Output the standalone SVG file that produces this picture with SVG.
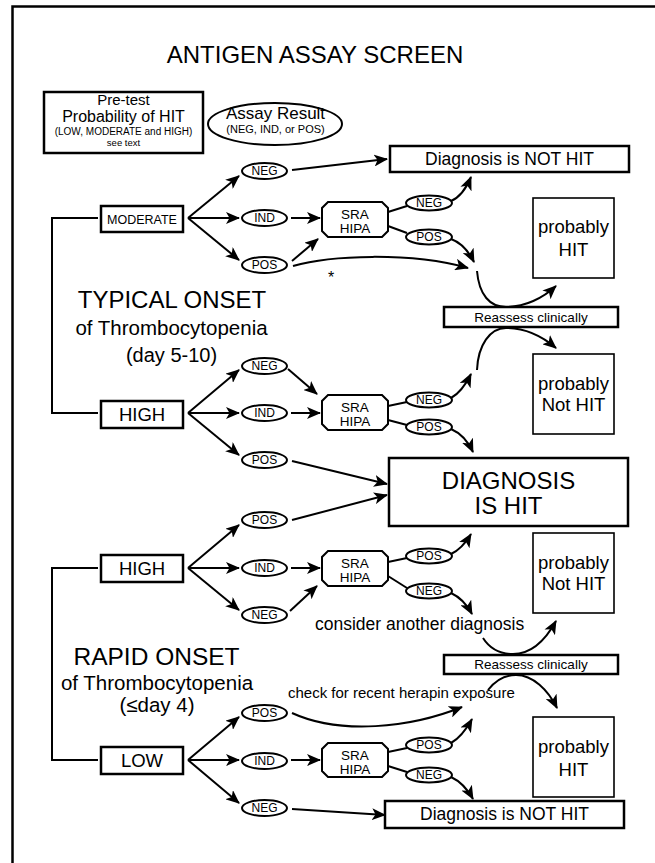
<svg xmlns="http://www.w3.org/2000/svg" width="655" height="863" viewBox="0 0 655 863">
<style>
text{font-family:"Liberation Sans",Arial,sans-serif;fill:#000}
.c{text-anchor:middle}
.box{fill:#fff;stroke:#000;stroke-width:2.5}
.pbox{fill:#fff;stroke:#000;stroke-width:1.6}
.ell{fill:#fff;stroke:#000;stroke-width:2}
.sra{fill:#fff;stroke:#000;stroke-width:2}
.lbl{font-size:12px;text-anchor:middle}
.conn path{fill:none;stroke:#000;stroke-width:2}
.conn path.a{marker-end:url(#ah)}
.frame{fill:none;stroke:#000;stroke-width:2.5}
</style>
<defs>
<marker id="ah" markerUnits="userSpaceOnUse" markerWidth="14" markerHeight="12" refX="13" refY="6" orient="auto">
<path d="M0,0 L14,6 L0,12 L3.5,6 z" fill="#000"/>
</marker>
</defs>
<rect width="655" height="863" fill="#fff"/>
<path class="frame" d="M12.5 863 L12.5 6.5 L655 6.5"/>

<text id="title" x="315" y="63" class="c" font-size="24">ANTIGEN ASSAY SCREEN</text>

<g id="legend-pretest">
<rect class="box" x="44" y="92" width="159" height="61"/>
<text x="123.5" y="104.5" class="c" font-size="15">Pre-test</text>
<text x="123.5" y="121.5" class="c" font-size="16">Probability of HIT</text>
<text x="123.5" y="135" class="c" font-size="10">(LOW, MODERATE and HIGH)</text>
<text x="123.5" y="146" class="c" font-size="9.5">see text</text>
</g>
<g id="legend-assay">
<ellipse class="ell" cx="275" cy="124" rx="67" ry="21"/>
<text x="275.5" y="119" class="c" font-size="17">Assay Result</text>
<text x="275.5" y="133" class="c" font-size="11">(NEG, IND, or POS)</text>
</g>

<g class="conn" id="connectors">
<path d="M98 218 L52 218 L52 413 L98 413"/>
<path d="M98 568 L52 568 L52 760 L98 760"/>
<!-- typical moderate -->
<path class="a" d="M188 218 L239 176"/>
<path class="a" d="M188 218 L239 218"/>
<path class="a" d="M188 218 L239 260"/>
<path class="a" d="M292 170 L387 159"/>
<path class="a" d="M291 218 L320 218"/>
<path class="a" d="M292 261 L318 239"/>
<path class="a" d="M293 266 C330 255 410 252 468 268"/>
<path d="M388 212 L407 206"/>
<path class="a" d="M451 201 Q463 196 471 177"/>
<path d="M388 226 L407 233"/>
<path class="a" d="M451 239 Q465 244 474 262"/>
<path class="a" d="M477 271 C479 295 490 307 506 307 C525 307 543 298 556 286"/>
<path class="a" d="M477 370 C478 345 490 328 506 328 C525 328 543 337 556 348"/>
<!-- typical high -->
<path class="a" d="M188 413 L239 370"/>
<path class="a" d="M188 413 L239 413"/>
<path class="a" d="M188 413 L239 455"/>
<path class="a" d="M288 369 L317 394"/>
<path class="a" d="M291 413 L320 413"/>
<path d="M388 406 L407 402"/>
<path class="a" d="M451 398 Q462 392 471 374"/>
<path d="M388 420 L407 425"/>
<path class="a" d="M451 429 Q465 435 473 452"/>
<path class="a" d="M292 461 L387 484"/>
<!-- rapid high -->
<path class="a" d="M292 520 L387 495"/>
<path class="a" d="M188 568 L239 525"/>
<path class="a" d="M188 568 L239 568"/>
<path class="a" d="M188 568 L239 610"/>
<path class="a" d="M291 568 L320 568"/>
<path class="a" d="M290 611 L317 586"/>
<path d="M388 562 L407 558"/>
<path class="a" d="M451 554 Q462 549 471 534"/>
<path d="M388 576 L407 588"/>
<path class="a" d="M451 593 Q464 599 472 614"/>
<path class="a" d="M483 638 C490 649 500 654 513 654 C530 654 545 641 556 621"/>
<path class="a" d="M488 690 C495 681 505 675 516 675 C533 675 548 690 557 708"/>
<!-- rapid low -->
<path class="a" d="M292 713 C340 735 410 728 462 707"/>
<path class="a" d="M188 760 L239 717"/>
<path class="a" d="M188 760 L239 760"/>
<path class="a" d="M188 760 L239 803"/>
<path class="a" d="M291 760 L320 760"/>
<path d="M388 752 L407 748"/>
<path class="a" d="M451 743 Q462 737 472 719"/>
<path d="M388 766 L407 772"/>
<path class="a" d="M451 777 Q464 783 473 799"/>
<path class="a" d="M292 809 L385 815"/>
</g>

<!-- labels -->
<text x="172" y="308" class="c" font-size="24">TYPICAL ONSET</text>
<text x="171.5" y="335" class="c" font-size="20.5">of Thrombocytopenia</text>
<text x="171.5" y="362" class="c" font-size="20">(day 5-10)</text>
<text x="156.5" y="665" class="c" font-size="24.5">RAPID ONSET</text>
<text x="157" y="690" class="c" font-size="20.5">of Thrombocytopenia</text>
<text x="157" y="712" class="c" font-size="20.5">(≤day 4)</text>
<text x="315" y="630" font-size="17.5">consider another diagnosis</text>
<text x="288" y="698" font-size="15">check for recent herapin exposure</text>
<text x="331" y="283" class="c" font-size="16">*</text>

<!-- probability boxes -->
<g id="moderate"><rect class="box" x="101" y="206" width="82" height="26"/><text x="142" y="223.5" class="c" font-size="12.5">MODERATE</text></g>
<g id="high-typical"><rect class="box" x="101" y="401" width="82" height="27"/><text x="142" y="421" class="c" font-size="18.5">HIGH</text></g>
<g id="high-rapid"><rect class="box" x="101" y="555" width="82" height="27"/><text x="142" y="575" class="c" font-size="18.5">HIGH</text></g>
<g id="low"><rect class="box" x="101" y="747" width="82" height="27"/><text x="142" y="767" class="c" font-size="18.5">LOW</text></g>

<!-- left assay ellipses -->
<g id="m-neg"><ellipse class="ell" cx="264.5" cy="171" rx="22.5" ry="8"/><text class="lbl" x="264.5" y="175.3">NEG</text></g>
<g id="m-ind"><ellipse class="ell" cx="264.5" cy="218" rx="22.5" ry="8"/><text class="lbl" x="264.5" y="222.3">IND</text></g>
<g id="m-pos"><ellipse class="ell" cx="264.5" cy="265" rx="22.5" ry="8"/><text class="lbl" x="264.5" y="269.3">POS</text></g>
<g id="th-neg"><ellipse class="ell" cx="264.5" cy="366" rx="22.5" ry="8"/><text class="lbl" x="264.5" y="370.3">NEG</text></g>
<g id="th-ind"><ellipse class="ell" cx="264.5" cy="413" rx="22.5" ry="8"/><text class="lbl" x="264.5" y="417.3">IND</text></g>
<g id="th-pos"><ellipse class="ell" cx="264.5" cy="460" rx="22.5" ry="8"/><text class="lbl" x="264.5" y="464.3">POS</text></g>
<g id="rh-pos"><ellipse class="ell" cx="264.5" cy="520" rx="22.5" ry="8"/><text class="lbl" x="264.5" y="524.3">POS</text></g>
<g id="rh-ind"><ellipse class="ell" cx="264.5" cy="568" rx="22.5" ry="8"/><text class="lbl" x="264.5" y="572.3">IND</text></g>
<g id="rh-neg"><ellipse class="ell" cx="264.5" cy="615" rx="22.5" ry="8"/><text class="lbl" x="264.5" y="619.3">NEG</text></g>
<g id="rl-pos"><ellipse class="ell" cx="264.5" cy="713" rx="22.5" ry="8"/><text class="lbl" x="264.5" y="717.3">POS</text></g>
<g id="rl-ind"><ellipse class="ell" cx="264.5" cy="761" rx="22.5" ry="8"/><text class="lbl" x="264.5" y="765.3">IND</text></g>
<g id="rl-neg"><ellipse class="ell" cx="264.5" cy="808" rx="22.5" ry="8"/><text class="lbl" x="264.5" y="812.3">NEG</text></g>

<!-- SRA HIPA -->
<g id="sra1"><path class="sra" d="M328 202 L382 202 L388 208 L388 231 L382 237 L328 237 L322 231 L322 208 Z"/><text x="355" y="219" class="c" font-size="13.5">SRA</text><text x="355" y="233" class="c" font-size="13.5">HIPA</text></g>
<g id="sra2"><path class="sra" d="M328 395 L382 395 L388 401 L388 424 L382 430 L328 430 L322 424 L322 401 Z"/><text x="355" y="412" class="c" font-size="13.5">SRA</text><text x="355" y="426" class="c" font-size="13.5">HIPA</text></g>
<g id="sra3"><path class="sra" d="M328 551 L382 551 L388 557 L388 580 L382 586 L328 586 L322 580 L322 557 Z"/><text x="355" y="568" class="c" font-size="13.5">SRA</text><text x="355" y="582" class="c" font-size="13.5">HIPA</text></g>
<g id="sra4"><path class="sra" d="M328 743 L382 743 L388 749 L388 771 L382 777 L328 777 L322 771 L322 749 Z"/><text x="355" y="759.5" class="c" font-size="13.5">SRA</text><text x="355" y="773.5" class="c" font-size="13.5">HIPA</text></g>

<!-- right small ellipses -->
<g id="s1-neg"><ellipse class="ell" cx="429" cy="203" rx="23" ry="7.5"/><text class="lbl" x="429" y="207.3">NEG</text></g>
<g id="s1-pos"><ellipse class="ell" cx="429" cy="237" rx="23" ry="7.5"/><text class="lbl" x="429" y="241.3">POS</text></g>
<g id="s2-neg"><ellipse class="ell" cx="429" cy="400" rx="23" ry="7.5"/><text class="lbl" x="429" y="404.3">NEG</text></g>
<g id="s2-pos"><ellipse class="ell" cx="429" cy="427" rx="23" ry="7.5"/><text class="lbl" x="429" y="431.3">POS</text></g>
<g id="s3-pos"><ellipse class="ell" cx="429" cy="556" rx="23" ry="7.5"/><text class="lbl" x="429" y="560.3">POS</text></g>
<g id="s3-neg"><ellipse class="ell" cx="429" cy="591" rx="23" ry="7.5"/><text class="lbl" x="429" y="595.3">NEG</text></g>
<g id="s4-pos"><ellipse class="ell" cx="429" cy="745" rx="23" ry="7.5"/><text class="lbl" x="429" y="749.3">POS</text></g>
<g id="s4-neg"><ellipse class="ell" cx="429" cy="775" rx="23" ry="7.5"/><text class="lbl" x="429" y="779.3">NEG</text></g>

<!-- outcomes -->
<g id="not-hit-top"><rect class="box" x="390" y="146" width="239" height="26"/><text x="509.5" y="165" class="c" font-size="17.5">Diagnosis is NOT HIT</text></g>
<g id="prob-hit-1"><rect class="pbox" x="533" y="198" width="81" height="80"/><text x="573.5" y="233" class="c" font-size="18.5">probably</text><text x="573.5" y="256" class="c" font-size="18.5">HIT</text></g>
<g id="reassess-1"><rect class="box" x="444" y="307" width="174" height="20"/><text x="531" y="321.5" class="c" font-size="13.5">Reassess clinically</text></g>
<g id="prob-nothit-1"><rect class="pbox" x="533" y="354" width="81" height="80"/><text x="573.5" y="390" class="c" font-size="18.5">probably</text><text x="573.5" y="411" class="c" font-size="18.5">Not HIT</text></g>
<g id="diag-hit"><rect class="box" x="389" y="458" width="239" height="68"/><text x="508.5" y="489" class="c" font-size="24">DIAGNOSIS</text><text x="508.5" y="514" class="c" font-size="24">IS HIT</text></g>
<g id="prob-nothit-2"><rect class="pbox" x="533" y="533" width="81" height="80"/><text x="573.5" y="569" class="c" font-size="18.5">probably</text><text x="573.5" y="590" class="c" font-size="18.5">Not HIT</text></g>
<g id="reassess-2"><rect class="box" x="444" y="655" width="174" height="19"/><text x="531" y="669" class="c" font-size="13.5">Reassess clinically</text></g>
<g id="prob-hit-2"><rect class="pbox" x="533" y="717" width="81" height="80"/><text x="573.5" y="753" class="c" font-size="18.5">probably</text><text x="573.5" y="776" class="c" font-size="18.5">HIT</text></g>
<g id="not-hit-bottom"><rect class="box" x="385" y="801" width="239" height="27"/><text x="504.5" y="820" class="c" font-size="17.5">Diagnosis is NOT HIT</text></g>
</svg>
